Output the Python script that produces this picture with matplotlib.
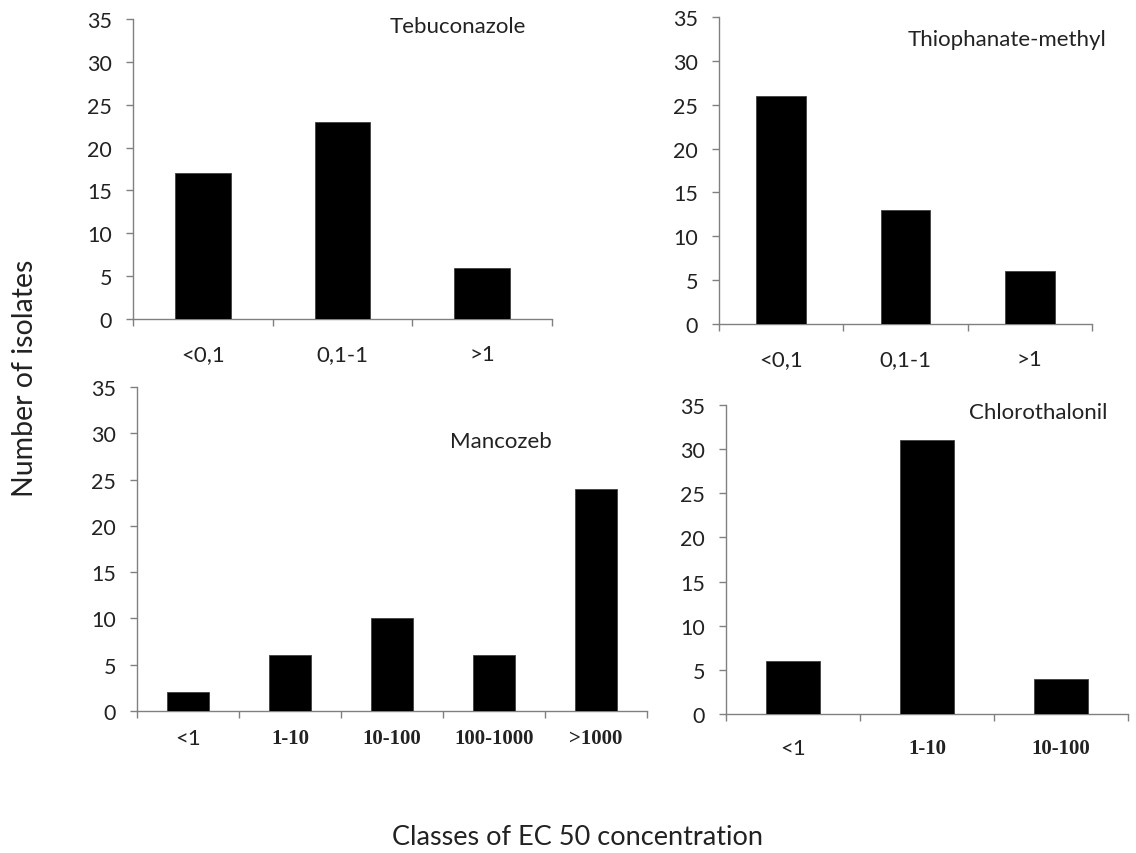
import matplotlib
matplotlib.use("Agg")
import matplotlib.pyplot as plt
import numpy as np

# ---- data ----
teb_labels = ["<0,1", "0,1-1", ">1"]
teb_values = [17, 23, 6]
thio_labels = ["<0,1", "0,1-1", ">1"]
thio_values = [26, 13, 6]
manc_labels = ["<1", "1-10", "10-100", "100-1000", ">1000"]
manc_values = [2, 6, 10, 6, 24]
chlo_labels = ["<1", "1-10", "10-100"]
chlo_values = [6, 31, 4]
y_ticks = [0, 5, 10, 15, 20, 25, 30, 35]

SANS = ["Lato", "DejaVu Sans"]
plt.rcParams['font.family'] = SANS

W, H = 1136, 854
fig = plt.figure(figsize=(W / 100, H / 100), dpi=100)


def px_axes(left, right, top, bottom):
    return fig.add_axes([left / W, 1 - bottom / H, (right - left) / W, (bottom - top) / H])


def panel(ax, labels, values, title, tpos, label_pad, serif_labels, bar_w):
    n = len(values)
    x = np.arange(n)
    ax.bar(x, values, width=bar_w, color="black", edgecolor="#404040", linewidth=0.6, zorder=3)
    ax.set_xlim(-0.5, n - 0.5)
    ax.set_ylim(0, 35)
    ax.set_yticks(y_ticks)
    ax.set_yticklabels([str(v) for v in y_ticks], fontsize=15.5, color="#222222")
    ax.set_xticks(np.arange(n + 1) - 0.5)
    ax.set_xticklabels([])
    ax.set_xticks(x, minor=True)
    ax.set_xticklabels(labels, minor=True)
    ax.tick_params(axis="x", which="minor", length=0, pad=label_pad)
    ax.tick_params(axis="both", which="major", direction="out", length=5, width=1, color="#808080")
    ax.tick_params(axis="y", pad=10)
    for lab in ax.get_xticklabels(minor=True):
        if serif_labels and lab.get_text() != "<1":
            lab.set_fontfamily(["Liberation Serif", "DejaVu Serif"])
            lab.set_fontweight("bold")
            lab.set_fontsize(15)
        else:
            lab.set_fontsize(16)
        lab.set_color("#222222")
    for s in ["top", "right"]:
        ax.spines[s].set_visible(False)
    for s in ["left", "bottom"]:
        ax.spines[s].set_color("#808080")
        ax.spines[s].set_linewidth(1.0)
    ax.text(tpos[0], tpos[1], title, transform=ax.transAxes, ha="center", va="center",
            fontsize=16, color="#222222")


ax1 = px_axes(133, 552, 20, 320)
panel(ax1, teb_labels, teb_values, "Tebuconazole", (0.776, 0.977), 18, False, 0.4)

ax2 = px_axes(719, 1092, 18, 325)
panel(ax2, thio_labels, thio_values, "Thiophanate-methyl", (0.772, 0.928), 18, False, 0.4)

ax3 = px_axes(137, 647, 388, 712)
panel(ax3, manc_labels, manc_values, "Mancozeb", (0.714, 0.833), 12, True, 0.42)

ax4 = px_axes(726, 1128, 406, 715)
panel(ax4, chlo_labels, chlo_values, "Chlorothalonil", (0.776, 0.977), 17.5, True, 0.41)

fig.text(25 / W, 1 - 378 / H, "Number of isolates", rotation=90, ha="center", va="center",
         fontsize=20.5, color="#222222")
fig.text(578 / W, 1 - 838 / H, "Classes of EC 50 concentration", ha="center", va="center",
         fontsize=19.5, color="#222222")

fig.savefig("out.png", dpi=100, facecolor="white")
